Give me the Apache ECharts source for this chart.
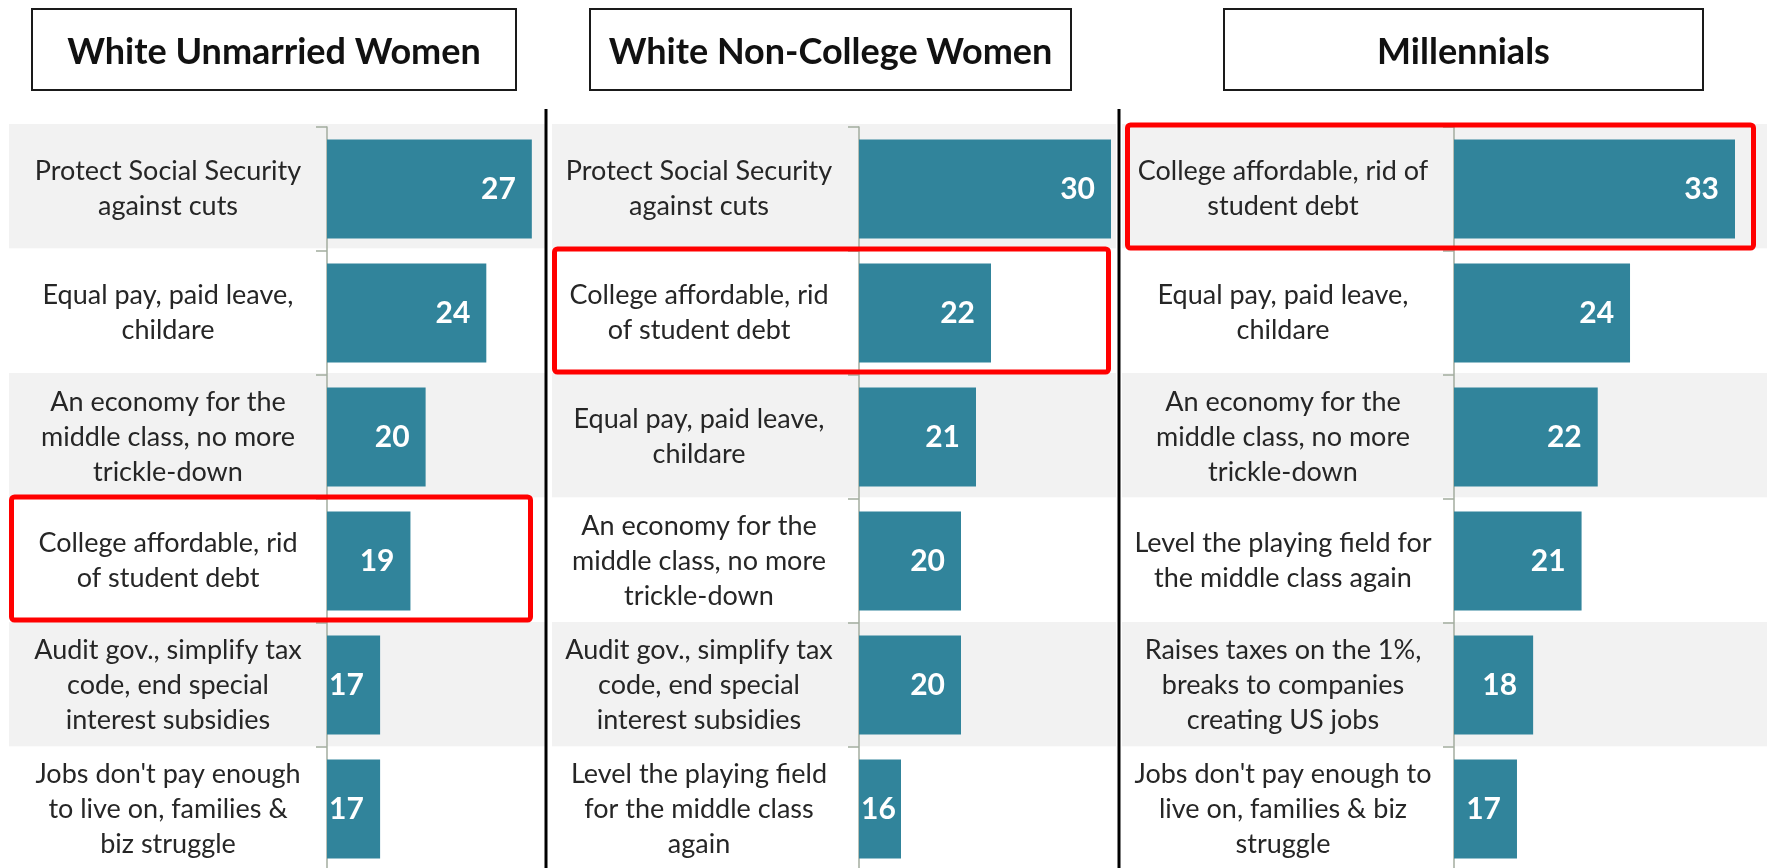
<!DOCTYPE html>
<html>
<head>
<meta charset="utf-8">
<script src="https://cdn.jsdelivr.net/npm/echarts@6/dist/echarts.min.js"></script>
<style>
  html, body { margin: 0; padding: 0; background: #fff; }
  #chart { width: 1767px; height: 868px; }
</style>
</head>
<body>
<div id="chart"></div>
<script>
// panel titles
const panelTitles = ['White Unmarried Women', 'White Non-College Women', 'Millennials']

// White Unmarried Women
const unmarriedTopics = [
  'Protect Social Security\nagainst cuts',
  'Equal pay, paid leave,\nchildare',
  'An economy for the\nmiddle class, no more\ntrickle-down',
  'College affordable, rid\nof student debt',
  'Audit gov., simplify tax\ncode, end special\ninterest subsidies',
  "Jobs don't pay enough\nto live on, families &\nbiz struggle"
]
const unmarriedValues = [27, 24, 20, 19, 17, 17]

// White Non-College Women
const nonCollegeTopics = [
  'Protect Social Security\nagainst cuts',
  'College affordable, rid\nof student debt',
  'Equal pay, paid leave,\nchildare',
  'An economy for the\nmiddle class, no more\ntrickle-down',
  'Audit gov., simplify tax\ncode, end special\ninterest subsidies',
  'Level the playing field\nfor the middle class\nagain'
]
const nonCollegeValues = [30, 22, 21, 20, 20, 16]

// Millennials
const millennialTopics = [
  'College affordable, rid of\nstudent debt',
  'Equal pay, paid leave,\nchildare',
  'An economy for the\nmiddle class, no more\ntrickle-down',
  'Level the playing field for\nthe middle class again',
  'Raises taxes on the 1%,\nbreaks to companies\ncreating US jobs',
  "Jobs don't pay enough to\nlive on, families & biz\nstruggle"
]
const millennialValues = [33, 24, 22, 21, 18, 17]

// the topic boxed in red in every panel
const highlightTopic = 'College affordable'

// layout of the three panels (pixels)
const BAND_TOP = 124
const BAND_H = 747
const ROW_TOP = 127
const ROWS_H = 744
const layout = [
  { band: [9, 545], axisX: 327, plotW: 220, min: 13.5, max: 28, labelCenter: 168, box: [32, 516], red: [9, 533] },
  { band: [552, 1116], axisX: 859, plotW: 258, min: 13.2, max: 30.4, labelCenter: 699, box: [590, 1071], red: [552, 1111] },
  { band: [1122, 1767], axisX: 1454, plotW: 281, min: 13.1, max: 30.5, labelCenter: 1283, box: [1224, 1703], red: [1125, 1756] }
]
const panelData = [
  { topics: unmarriedTopics, values: unmarriedValues },
  { topics: nonCollegeTopics, values: nonCollegeValues },
  { topics: millennialTopics, values: millennialValues }
]

const FONT = 'Lato, "Open Sans", sans-serif'
const BAR_COLOR = '#31849b'
const AXIS_COLOR = '#a3ad9f'

const chart = echarts.init(document.getElementById('chart'))

let grid = []
let xAxis = []
let yAxis = []
let series = []

panelData.forEach((d, i) => {
  const p = layout[i]
  // grid with the alternating row bands (covers label + bar area)
  grid.push({ left: p.band[0], top: BAND_TOP, width: p.band[1] - p.band[0], height: BAND_H, outerBoundsMode: 'none' })
  xAxis.push({ gridIndex: 2 * i, type: 'value', show: false })
  yAxis.push({
    gridIndex: 2 * i,
    type: 'category',
    data: d.topics,
    inverse: true,
    axisLine: { show: false },
    axisTick: { show: false },
    axisLabel: { show: false },
    splitLine: { show: false },
    splitArea: { show: true, areaStyle: { color: ['#f2f2f2', '#ffffff'] } }
  })
  // grid with the bars
  grid.push({ left: p.axisX, top: ROW_TOP, width: p.plotW, height: ROWS_H, outerBoundsMode: 'none' })
  xAxis.push({ gridIndex: 2 * i + 1, type: 'value', min: p.min, max: p.max, show: false })
  yAxis.push({
    gridIndex: 2 * i + 1,
    type: 'category',
    data: d.topics,
    inverse: true,
    axisLine: { show: true, lineStyle: { color: AXIS_COLOR, width: 1.5 } },
    axisTick: { show: true, length: 11, lineStyle: { color: AXIS_COLOR, width: 1.5 } },
    splitLine: { show: false },
    axisLabel: {
      margin: p.axisX - p.labelCenter,
      align: 'center',
      fontFamily: FONT,
      fontSize: 27,
      lineHeight: 35,
      padding: [3, 0, 0, 0],
      color: '#262626'
    }
  })
  // short bars: the number sits at the start of the bar, like the original
  const barData = d.values.map(v => {
    const len = (v - p.min) / (p.max - p.min) * p.plotW
    if (len < 56) {
      return { value: v, label: { position: 'insideLeft', distance: 2 } }
    }
    return v
  })
  series.push({
    type: 'bar',
    xAxisIndex: 2 * i + 1,
    yAxisIndex: 2 * i + 1,
    data: barData,
    barCategoryGap: '20%',
    clip: true,
    itemStyle: { color: BAR_COLOR },
    label: {
      show: true,
      position: 'insideRight',
      distance: 16,
      color: '#ffffff',
      fontFamily: FONT,
      fontWeight: 'bold',
      fontSize: 30
    }
  })
})

chart.setOption({
  animation: false,
  grid: grid,
  xAxis: xAxis,
  yAxis: yAxis,
  series: series
})

// titles, separators and the red boxes
let graphic = []
layout.forEach((p, i) => {
  graphic.push({
    type: 'rect',
    shape: { x: p.box[0], y: 9, width: p.box[1] - p.box[0], height: 81 },
    style: { fill: '#ffffff', stroke: '#1a1a1a', lineWidth: 2 }
  })
  graphic.push({
    type: 'text',
    x: (p.box[0] + p.box[1]) / 2,
    y: 52,
    style: {
      text: panelTitles[i],
      fontFamily: FONT,
      fontWeight: 'bold',
      fontSize: 36,
      fill: '#111111',
      align: 'center',
      verticalAlign: 'middle'
    }
  })
  // red box round the highlighted topic
  const topics = panelData[i].topics
  const idx = topics.findIndex(t => t.startsWith(highlightTopic))
  const cy = chart.convertToPixel({ yAxisIndex: 2 * i + 1 }, topics[idx])
  const rowH = ROWS_H / topics.length
  graphic.push({
    type: 'rect',
    z: 100,
    shape: { x: p.red[0] + 2.5, y: cy - rowH / 2 - 2, width: p.red[1] - p.red[0] - 5, height: rowH - 1, r: 3 },
    style: { fill: 'none', stroke: '#ff0000', lineWidth: 5 }
  })
})
// black separators between panels
;[546, 1119].forEach(x => {
  graphic.push({
    type: 'line',
    z: 100,
    shape: { x1: x, y1: 109, x2: x, y2: 868 },
    style: { stroke: '#000000', lineWidth: 3 }
  })
})

chart.setOption({ graphic: graphic })
</script>
</body>
</html>
